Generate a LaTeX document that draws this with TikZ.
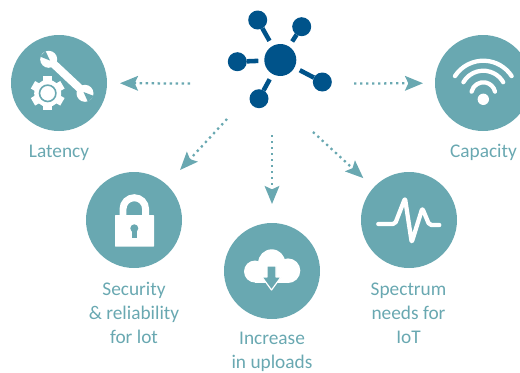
\documentclass[tikz,border=0pt]{standalone}
\usepackage{fontspec}
\setmainfont{Carlito}
\usepackage{tikz}
\usetikzlibrary{arrows.meta}
\definecolor{teal1}{HTML}{69A8B1}
\definecolor{blue1}{HTML}{00538A}
\tikzstyle{topic}=[circle,fill=teal1,draw=none,minimum size=72pt,inner sep=0pt,outer sep=0pt]
\tikzstyle{caption}=[text=teal1,font=\fontsize{14.5pt}{18pt}\selectfont,align=center,inner sep=0pt]
\tikzstyle{flow}=[teal1,line width=1.7pt,dash pattern=on 1.7pt off 2.8pt,-{Stealth[length=13.5pt,width=11pt,inset=2.5pt]}]
\tikzstyle{sat}=[circle,fill=blue1,minimum size=14.25pt,inner sep=0pt,outer sep=0pt]
\tikzstyle{link}=[blue1,line width=3.4pt]
\tikzstyle{icon}=[white,line width=3.2pt,line cap=round,line join=round]

\begin{document}
\begin{tikzpicture}[x=.75pt,y=.75pt]
        \useasboundingbox (0,0) rectangle (520,-372);

        \node[circle,fill=blue1,minimum size=24pt,inner sep=0pt,outer sep=4.5pt] (hub) at (280.3,-60) {};
        \node[sat] (sattl) at (257.7,-20) {};
        \node[sat] (sattr) at (301.7,-26.7) {};
        \node[sat] (satl) at (237.3,-61.7) {};
        \node[sat] (satr) at (322.3,-82) {};
        \node[sat] (satbl) at (259,-98.7) {};
        \draw[link] (sattl) -- (hub);
        \draw[link] (sattr) -- (hub);
        \draw[link] (satl) -- (hub);
        \draw[link] (satr) -- (hub);
        \draw[link] (satbl) -- (hub);

        \node[topic] (latency) at (59,-83) {};
        \node[topic] (capacity) at (483,-83) {};
        \node[topic] (security) at (134,-220) {};
        \node[topic] (uploads) at (272,-271) {};
        \node[topic] (spectrum) at (409,-220) {};

        \node[caption] (latencytxt) at (59,-152.5) {Latency};
        \node[caption] (capacitytxt) at (483.5,-152.5) {Capacity};
        \node[caption] (securitytxt) at (134,-313) {Security\\\& reliability\\for lot};
        \node[caption] (uploadstxt) at (272,-351.5) {Increase\\in uploads};
        \node[caption] (spectrumtxt) at (408.5,-313) {Spectrum\\needs for\\IoT};

        \coordinate (fromlat) at (190,-83.5);
        \coordinate (fromcap) at (354,-83.5);
        \coordinate (fromsec) at (227,-119);
        \coordinate (fromupl) at (272,-135);
        \coordinate (fromspe) at (313,-132);
        \draw[flow,shorten >=9.75pt] (fromlat) -- (latency);
        \draw[flow,shorten >=9pt] (fromcap) -- (capacity);
        \draw[flow,shorten >=15pt] (fromsec) -- (security);
        \draw[flow,shorten >=14.25pt] (fromupl) -- (uploads);
        \draw[flow,shorten >=10.5pt] (fromspe) -- (spectrum);

        % wrench and gear
        \draw[icon,line width=6pt,line cap=butt] (48.7,-59.3) -- (85,-93.3);
        \fill[white] (48.7,-59.3) circle (8.5);
        \fill[white] (85,-93.3) circle (8.5);
        \fill[teal1] (50,-60.5) -- (45.5,-51) -- (40,-56.5) -- cycle;
        \fill[teal1] (83.5,-92) -- (94,-96) -- (88,-102) -- cycle;
        \fill[white] (47.7,-93.3) circle (13.5);
        \foreach \a in {30,90,...,330}
          \draw[white,line width=6.5pt] (47.7,-93.3) -- ++(\a:17);
        \draw[teal1,line width=1.2pt] (47.7,-93.3) circle (8.2);

        % padlock
        \draw[white,line width=5.2pt] (123,-215) -- (123,-209) arc (180:0:11.3) -- (145.6,-215);
        \fill[white,rounded corners=.5pt] (115,-215) rectangle (154,-246.7);
        \fill[teal1] (134.3,-228.3) circle (4);
        \fill[teal1] (131.8,-228.3) rectangle (136.8,-238.3);

        % cloud with arrow
        \fill[white] (255,-271.5) circle (11);
        \fill[white] (271.7,-262.8) circle (13.5);
        \fill[white] (288,-270.7) circle (12.3);
        \fill[white] (255,-272) rectangle (288,-282.6);
        \draw[fill=teal1,draw=white,line width=.9pt,line join=round] (267,-266) -- (276,-266) -- (276,-277) -- (281,-277) -- (271.5,-290) -- (262,-277) -- (267,-277) -- cycle;

        % wifi
        \draw[icon] (483.3,-94.5) ++(147:33.8) arc (147:33:33.8);
        \draw[icon] (483.3,-93.7) ++(150:23) arc (150:30:23);
        \draw[icon] (483.3,-94.3) ++(167:12) arc (167:13:12);
        \fill[white] (483.3,-99.3) circle (5.7);

        % pulse
        \draw[icon,rounded corners=1.5pt] (378.3,-224) -- (395,-224) -- (405,-198.3) -- (411.7,-242.3) -- (422.3,-208.3) -- (429.3,-225) -- (439.3,-225);
\end{tikzpicture}
\end{document}
